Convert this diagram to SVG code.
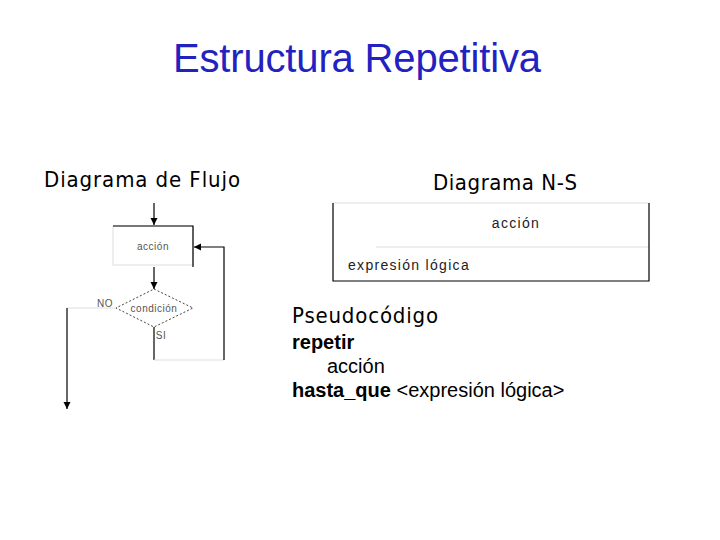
<svg xmlns="http://www.w3.org/2000/svg" width="720" height="540" viewBox="0 0 720 540">
<style>
.title{font-family:"Liberation Sans",Arial,sans-serif;font-size:40px;fill:#2222c0}
.hdr{font-family:"DejaVu Sans Condensed","DejaVu Sans",Verdana,sans-serif;font-size:22px;fill:#000}
.small{font-family:"Liberation Sans",Arial,sans-serif;font-size:10px;fill:#555;letter-spacing:0.5px}
.ns{font-family:"Liberation Sans",Arial,sans-serif;font-size:14px;fill:#222;letter-spacing:1.3px}
.code{font-family:"Liberation Sans",Arial,sans-serif;font-size:20px;fill:#000}
.b{font-weight:bold}
.ln{stroke:#000;stroke-width:1.2;fill:none}
.faint{stroke:#ddd;stroke-width:1;fill:none}
</style>
<defs>
<marker id="ah" markerWidth="8" markerHeight="8" refX="7" refY="4" orient="auto" markerUnits="userSpaceOnUse">
<path d="M0,0.5 L7,4 L0,7.5 z" fill="#000"/>
</marker>
</defs>
<rect width="720" height="540" fill="#fff"/>
<text class="title" x="357" y="72" text-anchor="middle" textLength="368">Estructura Repetitiva</text>
<text class="hdr" x="44" y="187" textLength="196">Diagrama de Flujo</text>
<text class="hdr" x="433" y="190" textLength="144">Diagrama N-S</text>

<g id="accion">
<rect x="113" y="226" width="80" height="39" class="faint"/>
<path d="M113,226 H193 V267" class="ln"/>
<text class="small" x="153" y="250" text-anchor="middle">acción</text>
</g>
<g id="condicion">
<polygon points="154,289 193,308 154,327 116,308" fill="none" stroke="#444" stroke-width="1" stroke-dasharray="2,2"/>
<text class="small" x="154" y="312" text-anchor="middle">condición</text>
<text class="small" x="105" y="307" text-anchor="middle" font-size="8">NO</text>
<text class="small" x="161" y="339" text-anchor="middle" font-size="8">SI</text>
</g>
<g id="connectors">
<path d="M154,203 V225" class="ln" marker-end="url(#ah)"/>
<path d="M154,267 V289" class="ln" marker-end="url(#ah)"/>
<path d="M154,327 V360" class="ln"/>
<path d="M154,360 H224" class="faint"/>
<path d="M224,360 V247 H194" class="ln" marker-end="url(#ah)"/>
<path d="M67,308 H116" class="faint"/>
<path d="M67,308 V409" class="ln" marker-end="url(#ah)"/>
</g>

<g id="ns">
<path d="M333,203 H649" class="faint"/>
<path d="M376,247 H649" class="faint"/>
<path d="M333,203 V281 H649 V203" class="ln"/>
<text class="ns" x="516" y="228" text-anchor="middle">acción</text>
<text class="ns" x="348" y="270">expresión lógica</text>
</g>

<g id="pseudo">
<text class="hdr" x="292" y="323" font-size="23" textLength="146">Pseudocódigo</text>
<text class="code b" x="292" y="349">repetir</text>
<text class="code" x="327" y="373">acción</text>
<text class="code" x="292" y="397"><tspan class="b">hasta_que</tspan> &lt;expresión lógica&gt;</text>
</g>
</svg>
